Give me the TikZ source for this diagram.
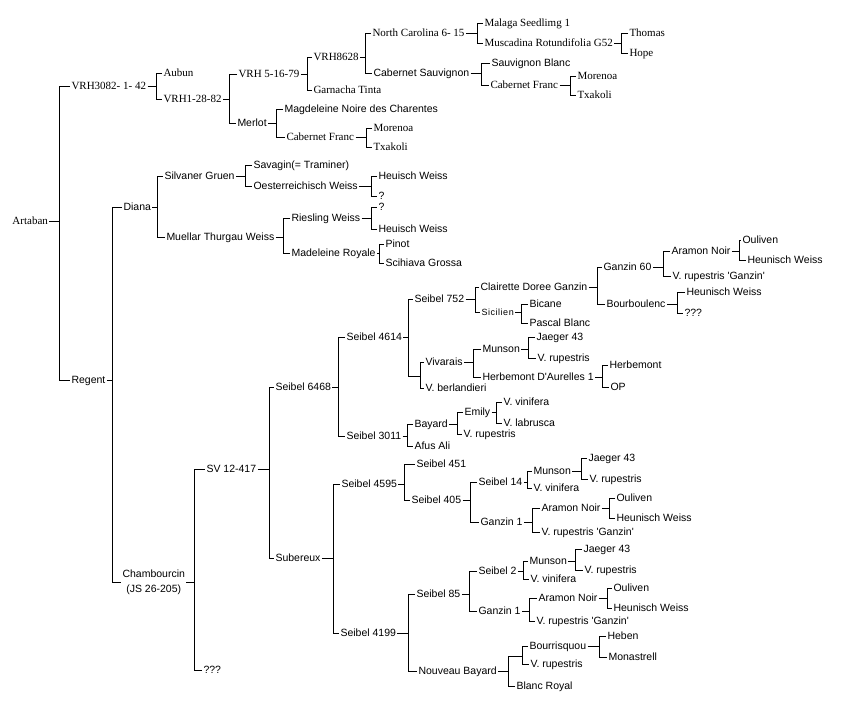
\documentclass[tikz,border=0pt]{standalone}
\usepackage{fontspec}
\setmainfont{Liberation Sans}
\newfontfamily\serifcv{Liberation Serif}
\usepackage{tikz}
\def\fork[#1](#2)(#3)(#4){\draw (#3.west) -- ++(-#1,0) coordinate (k) |- (#4.west); \draw (#2.east) -- (#2.east -| k);}
\tikzset{
	cvbase/.style={anchor=west, inner sep=1pt, font=\fontsize{10.5}{15}\selectfont},
	cv/.style={cvbase, text height=7.5pt, text depth=0pt},
	cvr/.style={cv, font=\serifcv\fontsize{11}{13}\selectfont},
}

\begin{document}
\begin{tikzpicture}[x=1pt, y=-1pt, line width=1pt]
			%%%%% START %%%%%
			\useasboundingbox (0, 0) rectangle (843, 705);
			
			\node[cvr] (art) at (11, 221) {Artaban};
			
			\node[cvr] (vrh3082) at (70, 86) {VRH3082- 1- 42};
			\node[cvr] (aubun) at (162, 73) {Aubun};
			\node[cvr] (vrh1) at (162, 99) {VRH1-28-82};
			\node[cvr] (vrh5) at (237, 74) {VRH 5-16-79};
			\node[cvr] (vrh8628) at (312, 57) {VRH8628};
			\node[cvr] (garn) at (312, 90) {Garnacha Tinta};
			\node[cvr] (nc) at (371, 33) {North Carolina 6- 15};
			\node[cvr] (malaga) at (483, 23) {Malaga Seedlimg 1};
			\node[cvr] (musc) at (483, 43) {Muscadina Rotundifolia G52};
			\node[cvr] (thomas) at (628, 33) {Thomas};
			\node[cvr] (hope) at (628, 53) {Hope};
			\node[cv] (cabs) at (372, 73) {Cabernet Sauvignon};
			\node[cv] (sauvb) at (490, 63) {Sauvignon Blanc};
			\node[cvr] (cabf1) at (489, 85) {Cabernet Franc};
			\node[cvr] (mor1) at (576, 76) {Morenoa};
			\node[cvr] (txa1) at (576, 95) {Txakoli};
			\node[cv] (merlot) at (236, 123) {Merlot};
			\node[cv] (magd) at (283, 109) {Magdeleine Noire des Charentes};
			\node[cvr] (cabf2) at (285, 137) {Cabernet Franc};
			\node[cvr] (mor2) at (372, 128) {Morenoa};
			\node[cvr] (txa2) at (372, 147) {Txakoli};
			
			\node[cv] (regent) at (70, 380) {Regent};
			\node[cv] (diana) at (122, 207) {Diana};
			\node[cv] (silv) at (163, 176) {Silvaner Gruen};
			\node[cv] (sava) at (252, 165) {Savagin(= Traminer)};
			\node[cv] (oest) at (252, 186) {Oesterreichisch Weiss};
			\node[cv] (heu1) at (377, 176) {Heuisch Weiss};
			\node[cv] (q1) at (377, 196) {?};
			\node[cv] (muel) at (165, 237) {Muellar Thurgau Weiss};
			\node[cv] (ries) at (290, 218) {Riesling Weiss};
			\node[cv] (q2) at (377, 207) {?};
			\node[cv] (heu2) at (377, 229) {Heuisch Weiss};
			\node[cv] (madr) at (290, 253) {Madeleine Royale};
			\node[cv] (pinot) at (384, 244) {Pinot};
			\node[cv] (scih) at (384, 263) {Scihiava Grossa};
			
			\node[cvbase, align=center] (chamb) at (121, 582) {Chambourcin\\(JS 26-205)};
			\node[cv] (sv) at (205, 469) {SV 12-417};
			\node[cv] (q3) at (202, 670) {???};
			\node[cv] (s6468) at (274, 387) {Seibel 6468};
			\node[cv] (sub) at (274, 558) {Subereux};
			
			\node[cv] (s4614) at (345, 337) {Seibel 4614};
			\node[cv] (s752) at (413, 299) {Seibel 752};
			\node[cv] (clair) at (479, 287) {Clairette Doree Ganzin};
			\node[cv, font=\fontsize{9}{10}\selectfont\addfontfeature{LetterSpace=6}] (sic) at (480, 312) {Sicilien};
			\node[cv] (bic) at (528, 304) {Bicane};
			\node[cv] (pasc) at (528, 323) {Pascal Blanc};
			\node[cv] (g60) at (602, 267) {Ganzin 60};
			\node[cv] (bourb) at (605, 304) {Bourboulenc};
			\node[cv] (aram1) at (670, 251) {Aramon Noir};
			\node[cv] (vrg1) at (671, 276) {V. rupestris \textquotesingle Ganzin\textquotesingle};
			\node[cv] (ouli1) at (741, 240) {Ouliven};
			\node[cv] (hw1) at (746, 260) {Heunisch Weiss};
			\node[cv] (hw2) at (685, 292) {Heunisch Weiss};
			\node[cv] (q4) at (683, 313) {???};
			\coordinate (j1) at (420, 376);
			\node[cv] (viv) at (424, 362) {Vivarais};
			\node[cv] (vber) at (424, 388) {V. berlandieri};
			\node[cv] (muns1) at (481, 349) {Munson};
			\node[cv] (herbd) at (481, 377) {Herbemont D\textquotesingle Aurelles 1};
			\node[cv] (jae1) at (535, 337) {Jaeger 43};
			\node[cv] (vr1) at (536, 358) {V. rupestris};
			\node[cv] (herb) at (608, 365) {Herbemont};
			\node[cv] (op) at (609, 387) {OP};
			
			\node[cv] (s3011) at (345, 436) {Seibel 3011};
			\node[cv] (bay) at (413, 424) {Bayard};
			\node[cv] (afus) at (413, 446) {Afus Ali};
			\node[cv] (emily) at (463, 412) {Emily};
			\node[cv] (vr2) at (462, 434) {V. rupestris};
			\node[cv] (vv1) at (502, 402) {V. vinifera};
			\node[cv] (vl) at (502, 423) {V. labrusca};
			
			\node[cv] (s4595) at (340, 484) {Seibel 4595};
			\node[cv] (s451) at (415, 464) {Seibel 451};
			\node[cv] (s405) at (410, 500) {Seibel 405};
			\node[cv] (s14) at (477, 482) {Seibel 14};
			\node[cv] (g1a) at (479, 522) {Ganzin 1};
			\node[cv] (muns2) at (532, 471) {Munson};
			\node[cv] (vv2) at (532, 488) {V. vinifera};
			\node[cv] (jae2) at (587, 458) {Jaeger 43};
			\node[cv] (vr3) at (588, 479) {V. rupestris};
			\node[cv] (aram2) at (540, 508) {Aramon Noir};
			\node[cv] (vrg2) at (540, 532) {V. rupestris \textquotesingle Ganzin\textquotesingle};
			\node[cv] (ouli2) at (615, 498) {Ouliven};
			\node[cv] (hw3) at (615, 518) {Heunisch Weiss};
			
			\node[cv] (s4199) at (339, 633) {Seibel 4199};
			\node[cv] (s85) at (415, 594) {Seibel 85};
			\node[cv] (nb) at (417, 671) {Nouveau Bayard};
			\node[cv] (s2) at (477, 571) {Seibel 2};
			\node[cv] (g1b) at (477, 611) {Ganzin 1};
			\node[cv] (muns3) at (528, 561) {Munson};
			\node[cv] (vv3) at (529, 579) {V. vinifera};
			\node[cv] (jae3) at (582, 549) {Jaeger 43};
			\node[cv] (vr4) at (583, 570) {V. rupestris};
			\node[cv] (aram3) at (537, 598) {Aramon Noir};
			\node[cv] (vrg3) at (535, 621) {V. rupestris \textquotesingle Ganzin\textquotesingle};
			\node[cv] (ouli3) at (612, 588) {Ouliven};
			\node[cv] (hw4) at (612, 608) {Heunisch Weiss};
			\coordinate (j2) at (522, 656);
			\node[cv] (bourr) at (528, 646) {Bourrisquou};
			\node[cv] (vr5) at (529, 664) {V. rupestris};
			\node[cv] (heben) at (606, 636) {Heben};
			\node[cv] (monas) at (607, 657) {Monastrell};
			\node[cv] (blanc) at (515, 686) {Blanc Royal};
			
			% brackets
			\fork[11](art)(vrh3082)(regent)
			\fork[6](vrh3082)(aubun)(vrh1)
			\fork[8](vrh1)(vrh5)(merlot)
			\fork[5](vrh5)(vrh8628)(garn)
			\fork[6](vrh8628)(nc)(cabs)
			\fork[6](nc)(malaga)(musc)
			\fork[7](musc)(thomas)(hope)
			\fork[9](cabs)(sauvb)(cabf1)
			\fork[6](cabf1)(mor1)(txa1)
			\fork[7](merlot)(magd)(cabf2)
			\fork[6](cabf2)(mor2)(txa2)
			
			\fork[10](regent)(diana)(chamb)
			\fork[6](diana)(silv)(muel)
			\fork[7](silv)(sava)(oest)
			\fork[6](oest)(heu1)(q1)
			\fork[7](muel)(ries)(madr)
			\fork[6](ries)(heu2)(q2)
			\fork[5](madr)(pinot)(scih)
			
			\fork[8](chamb)(q3)(sv)
			\fork[5](sv)(s6468)(sub)
			\fork[7](s6468)(s4614)(s3011)
			\draw (s752.west) -- ++(-5,0) coordinate (k) |- (j1);
			\draw (s4614.east) -- (s4614.east -| k);
			\draw (viv.west) -- ++(-4,0) |- (vber.west);
			\fork[4](s752)(clair)(sic)
			\fork[5](clair)(g60)(bourb)
			\fork[7](g60)(aram1)(vrg1)
			\fork[7](aram1)(hw1)(ouli1)
			\fork[8](bourb)(hw2)(q4)
			\fork[7](sic)(bic)(pasc)
			\fork[8](viv)(muns1)(herbd)
			\fork[7](muns1)(jae1)(vr1)
			\fork[6](herbd)(herb)(op)
			\fork[6](s3011)(bay)(afus)
			\fork[6](bay)(emily)(vr2)
			\fork[6](emily)(vv1)(vl)
			
			\fork[7](sub)(s4595)(s4199)
			\fork[6](s4595)(s405)(s451)
			\fork[7](s405)(s14)(g1a)
			\fork[5](s14)(muns2)(vv2)
			\fork[6](muns2)(jae2)(vr3)
			\fork[8](g1a)(aram2)(vrg2)
			\fork[6](aram2)(ouli2)(hw3)
			\fork[7](s4199)(s85)(nb)
			\fork[8](s85)(s2)(g1b)
			\fork[5](s2)(muns3)(vv3)
			\fork[7](muns3)(jae3)(vr4)
			\fork[8](g1b)(aram3)(vrg3)
			\fork[5](aram3)(ouli3)(hw4)
			\draw (blanc.west) -- ++(-7,0) coordinate (k) |- (j2);
			\draw (nb.east) -- (nb.east -| k);
			\draw (bourr.west) -- ++(-6,0) |- (vr5.west);
			\fork[7](bourr)(heben)(monas)
			
			%%%%% END %%%%%
\end{tikzpicture}
\end{document}
